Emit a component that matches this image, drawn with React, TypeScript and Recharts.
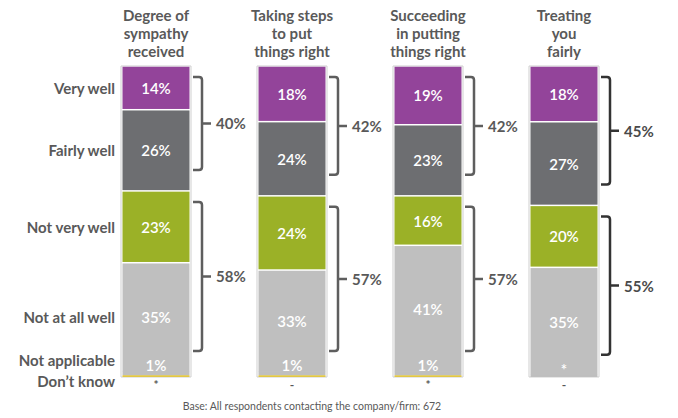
import React from 'react';
import { BarChart, Bar, XAxis, YAxis, LabelList } from 'recharts';

// column headings (one entry per bar, split into lines)
const titles = [
  ['Degree of', 'sympathy', 'received'],
  ['Taking steps', 'to put', 'things right'],
  ['Succeeding', 'in putting', 'things right'],
  ['Treating', 'you', 'fairly'],
];

const veryWell = [14, 18, 19, 18];
const fairlyWell = [26, 24, 23, 27];
const notVeryWell = [23, 24, 16, 20];
const notAtAllWell = [35, 33, 41, 35];
const notApplicable = [1, 1, 1, 0.4];
const notApplicableText = ['1%', '1%', '1%', '*'];
const dontKnow = [0.6, 0.6, 0.6, 0];
const dontKnowText = ['*', '-', '*', '-'];
const wellNet = [40, 42, 42, 45];
const notWellNet = [58, 57, 57, 55];

const TEXT = '#595959';
const FONT = 'Lato, "Open Sans", sans-serif';
const C = {
  veryWell: '#93449A',
  fairlyWell: '#6D6E71',
  notVeryWell: '#9BB127',
  notAtAll: '#BFBFBF',
  dontKnow: '#E2C744',
};
const bracketColor = (i: number) => (i === 3 ? '#333333' : '#5E5E5E');

const data = titles.map((t, i) => ({
  name: t.join(' '),
  idx: i,
  dk: dontKnow[i],
  na: notApplicable[i],
  naw: notAtAllWell[i],
  nvw: notVeryWell[i],
  fw: fairlyWell[i],
  vw: veryWell[i],
}));

const segShape = (fill: string) => (p: any) => (
  <rect x={p.x + 1.5} y={p.y + 0.75} width={p.width - 3} height={Math.max(p.height - 1.5, 0)} fill={fill} />
);

const naShape = (p: any) => (
  <rect x={p.x + 1.5} y={p.y - 1} width={p.width - 3} height={p.height + 1} fill={C.notAtAll} />
);

const dkShape = (p: any) =>
  p.height > 0 ? <rect x={p.x + 1.5} y={p.y} width={p.width - 3} height={p.height} fill={C.dontKnow} /> : <g />;

const rowLabel = (x: number, y: number, text: string) => (
  <text x={x - 6} y={y} textAnchor="end" dominantBaseline="central" fill={TEXT}
    style={{ fontFamily: FONT, fontSize: 15, fontWeight: 700 }}>{text}</text>
);

const segText = (x: number, y: number, text: string) => (
  <text x={x} y={y} textAnchor="middle" dominantBaseline="central" fill="#fff"
    style={{ fontFamily: FONT, fontSize: 15, fontWeight: 600 }}>{text}</text>
);

const bracket = (right: number, top: number, bottom: number, label: string, color: string) => {
  const x0 = right + 2;
  const x1 = right + 11;
  const t = top + 11;
  const b = bottom - 21;
  const mid = (t + b) / 2;
  const r = 3;
  return (
    <g>
      <path
        d={`M${x0},${t} L${x1 - r},${t} Q${x1},${t} ${x1},${t + r} L${x1},${b - r} Q${x1},${b} ${x1 - r},${b} L${x0},${b} M${x1},${mid} L${x1 + 9},${mid}`}
        fill="none" stroke={color} strokeWidth={2.5}
      />
      <text x={x1 + 14} y={mid} dominantBaseline="central" fill={color === '#333333' ? '#4a4a4a' : TEXT}
        style={{ fontFamily: FONT, fontSize: 15, fontWeight: 700 }}>{label}</text>
    </g>
  );
};

const makeLabel = (key: string, name: string) => (p: any) => {
  const { x, y, width, height, index } = p;
  const cx = x + width / 2;
  const out: React.ReactNode[] = [];
  if (index === 0) out.push(<g key="row">{rowLabel(x, key === 'na' ? y - 12 : key === 'dk' ? y + 6 : y + height / 2, name)}</g>);
  if (key === 'na') {
    out.push(<g key="v">{segText(cx, y - 7, notApplicableText[index])}</g>);
  } else if (key !== 'dk') {
    out.push(<g key="v">{segText(cx, y + height / 2, `${p.value}%`)}</g>);
  }
  if (key === 'vw') {
    const fwH = (height * fairlyWell[index]) / veryWell[index];
    out.push(<g key="b">{bracket(x + width, y, y + height + fwH, `${wellNet[index]}%`, bracketColor(index))}</g>);
  }
  if (key === 'nvw') {
    const nawH = (height * notAtAllWell[index]) / notVeryWell[index];
    out.push(<g key="b">{bracket(x + width, y, y + height + nawH, `${notWellNet[index]}%`, bracketColor(index))}</g>);
  }
  return <g>{out}</g>;
};

const TitleTick = (p: any) => {
  const lines = titles[p.index] || [];
  return (
    <g>
      {lines.map((l, i) => (
        <text key={i} x={p.x} y={21 + i * 18} textAnchor="middle" fill={TEXT}
          style={{ fontFamily: FONT, fontSize: 15, fontWeight: 700 }}>{l}</text>
      ))}
    </g>
  );
};

const DkTick = (p: any) => (
  <text x={p.x} y={389} textAnchor="middle" fill={TEXT}
    style={{ fontFamily: FONT, fontSize: 12, fontWeight: 700 }}>{dontKnowText[p.index]}</text>
);

export default function App() {
  return (
    <div style={{ position: 'absolute', left: 0, top: 0, width: 678, height: 418, background: '#fff' }}>
      <BarChart width={678} height={418} data={data} stackOffset="expand"
        margin={{ top: 0, right: 46, bottom: 0, left: 88 }}>
        <XAxis xAxisId="top" dataKey="name" orientation="top" height={66} axisLine={false} tickLine={false}
          tick={<TitleTick />} interval={0} />
        <XAxis dataKey="name" height={41} axisLine={false} tickLine={false} tick={<DkTick />} interval={0} />
        <YAxis hide domain={[0, 1]} />
        <Bar dataKey="dk" stackId="s" barSize={70} isAnimationActive={false} shape={dkShape}
          background={{ fill: '#fff', stroke: '#cfcfcf', strokeWidth: 1 }}>
          <LabelList dataKey="dk" content={makeLabel('dk', 'Don\u2019t know')} />
        </Bar>
        <Bar dataKey="na" stackId="s" barSize={70} isAnimationActive={false} shape={naShape}>
          <LabelList dataKey="na" content={makeLabel('na', 'Not applicable')} />
        </Bar>
        <Bar dataKey="naw" stackId="s" barSize={70} isAnimationActive={false} shape={segShape(C.notAtAll)}>
          <LabelList dataKey="naw" content={makeLabel('naw', 'Not at all well')} />
        </Bar>
        <Bar dataKey="nvw" stackId="s" barSize={70} isAnimationActive={false} shape={segShape(C.notVeryWell)}>
          <LabelList dataKey="nvw" content={makeLabel('nvw', 'Not very well')} />
        </Bar>
        <Bar dataKey="fw" stackId="s" barSize={70} isAnimationActive={false} shape={segShape(C.fairlyWell)}>
          <LabelList dataKey="fw" content={makeLabel('fw', 'Fairly well')} />
        </Bar>
        <Bar dataKey="vw" stackId="s" barSize={70} isAnimationActive={false} shape={segShape(C.veryWell)}>
          <LabelList dataKey="vw" content={makeLabel('vw', 'Very well')} />
        </Bar>
      </BarChart>
      <div style={{ position: 'absolute', left: 0, top: 400, width: 624, textAlign: 'center', fontFamily: FONT,
        fontSize: 10.5, color: TEXT }}>
        Base: All respondents contacting the company/firm: 672
      </div>
    </div>
  );
}
